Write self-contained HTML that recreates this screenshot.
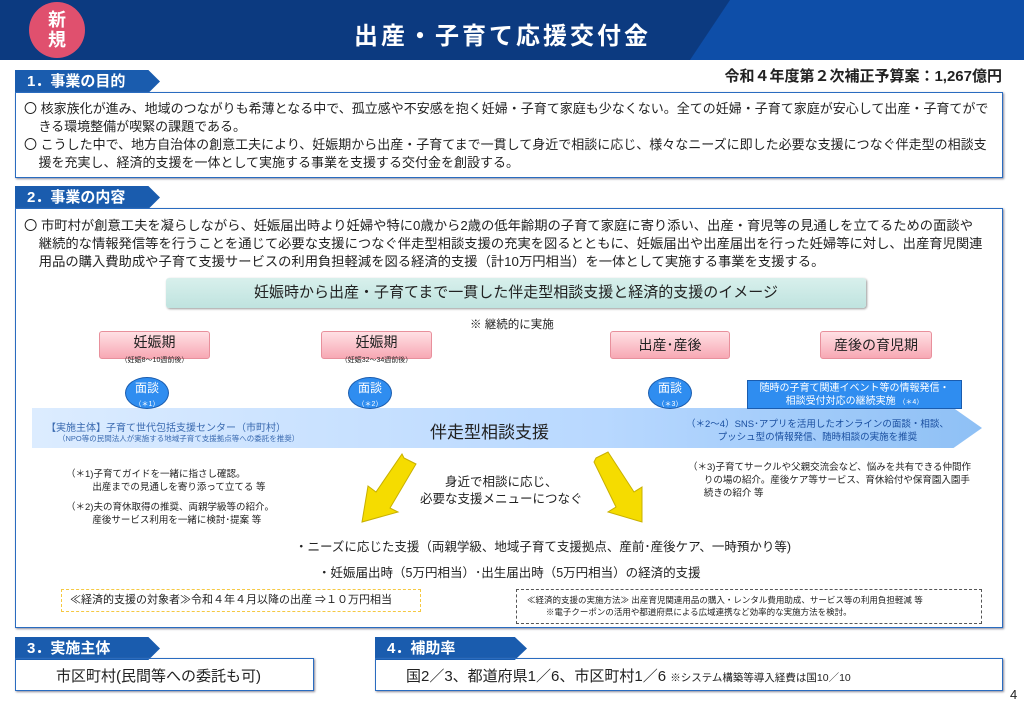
<!DOCTYPE html>
<html><head><meta charset="utf-8"><style>
*{margin:0;padding:0;box-sizing:border-box}
body{width:1024px;height:709px;position:relative;background:#fff;font-family:"Liberation Sans","Noto Sans CJK JP",sans-serif;color:#222;overflow:hidden}
.a{position:absolute;white-space:nowrap}
.tab{position:absolute;height:23px;background:#1a5cae;color:#fff;font-weight:bold;font-size:15px;line-height:23px;padding-left:12px;clip-path:polygon(0 0,92% 0,100% 50%,92% 100%,0 100%)}
.box{position:absolute;border:1.5px solid #2a6cc0;box-shadow:1px 1px 2px #889}
.pk{position:absolute;height:28px;background:linear-gradient(#ffe0e4,#f7a8b4);border:1px solid #e8909c;border-radius:3px;text-align:center;font-size:14px;line-height:15px;padding-top:3px}
.ci{position:absolute;width:44px;height:32px;border-radius:50%;background:#2f8df0;border:1px solid #1a5cae;color:#fff;text-align:center;font-size:12px;line-height:14px;padding-top:3px}
</style></head><body>
<div class="a" style="left:0;top:0;width:1024px;height:60px;background:#0c3a80"></div>
<div class="a" style="left:690px;top:0;width:334px;height:60px;background:#0e4ea8;clip-path:polygon(40px 0,100% 0,100% 100%,0 100%)"></div>
<div class="a" style="left:29px;top:2px;width:56px;height:56px;border-radius:50%;background:#e0506e;color:#fff;font-weight:bold;font-size:18px;line-height:20px;text-align:center;padding-top:8px">新<br>規</div>
<div class="a" style="left:0;width:1005px;top:16px;text-align:center;color:#fff;font-size:24px;font-weight:bold;letter-spacing:3px">出産・子育て応援交付金</div>

<div class="tab" style="left:15px;top:70px;width:145px">1．事業の目的</div>
<div class="a" style="right:22px;top:65px;font-size:15px;font-weight:bold">令和４年度第２次補正予算案：1,267億円</div>
<div class="box" style="left:15px;top:92px;width:988px;height:86px"></div>
<div class="a" style="left:24px;top:100px;font-size:13px;line-height:18px">〇 核家族化が進み、地域のつながりも希薄となる中で、孤立感や不安感を抱く妊婦・子育て家庭も少なくない。全ての妊婦・子育て家庭が安心して出産・子育てがで<br>&nbsp;&nbsp;&nbsp;&nbsp;きる環境整備が喫緊の課題である。<br>〇 こうした中で、地方自治体の創意工夫により、妊娠期から出産・子育てまで一貫して身近で相談に応じ、様々なニーズに即した必要な支援につなぐ伴走型の相談支<br>&nbsp;&nbsp;&nbsp;&nbsp;援を充実し、経済的支援を一体として実施する事業を支援する交付金を創設する。</div>

<div class="tab" style="left:15px;top:186px;width:145px">2．事業の内容</div>
<div class="box" style="left:15px;top:208px;width:988px;height:420px"></div>
<div class="a" style="left:24px;top:217px;font-size:13.3px;line-height:18px">〇 市町村が創意工夫を凝らしながら、妊娠届出時より妊婦や特に0歳から2歳の低年齢期の子育て家庭に寄り添い、出産・育児等の見通しを立てるための面談や<br>&nbsp;&nbsp;&nbsp;&nbsp;継続的な情報発信等を行うことを通じて必要な支援につなぐ伴走型相談支援の充実を図るとともに、妊娠届出や出産届出を行った妊婦等に対し、出産育児関連<br>&nbsp;&nbsp;&nbsp;&nbsp;用品の購入費助成や子育て支援サービスの利用負担軽減を図る経済的支援（計10万円相当）を一体として実施する事業を支援する。</div>
<div class="a" style="left:166px;top:278px;width:700px;height:30px;background:linear-gradient(#d8f0ec,#bfe3df);border-radius:3px;box-shadow:1px 1px 2px #999;text-align:center;font-size:15px;line-height:30px">妊娠時から出産・子育てまで一貫した伴走型相談支援と経済的支援のイメージ</div>
<div class="a" style="left:470px;top:316px;font-size:11.5px">※ 継続的に実施</div>
<div class="pk" style="left:99px;top:331px;width:111px">妊娠期<br><span style="font-size:7px">（妊娠8～10週前後）</span></div>
<div class="pk" style="left:321px;top:331px;width:111px">妊娠期<br><span style="font-size:7px">（妊娠32～34週前後）</span></div>
<div class="pk" style="left:610px;top:331px;width:120px;line-height:20px">出産･産後</div>
<div class="pk" style="left:820px;top:331px;width:112px;line-height:20px">産後の育児期</div>
<div class="a" style="left:32px;top:408px;width:950px;height:40px;background:linear-gradient(90deg,#dcecff,#b8d8ff 60%,#8ec0f5);clip-path:polygon(0 0,97% 0,100% 50%,97% 100%,0 100%)"></div>
<div class="ci" style="left:125px;top:377px">面談<br><span style="font-size:7px">（＊1）</span></div>
<div class="ci" style="left:348px;top:377px">面談<br><span style="font-size:7px">（＊2）</span></div>
<div class="ci" style="left:648px;top:377px">面談<br><span style="font-size:7px">（＊3）</span></div>
<div class="a" style="left:747px;top:380px;width:215px;height:29px;background:#2f8df0;border:1px solid #1a5cae;color:#fff;text-align:center;font-size:10px;line-height:13px;padding-top:1px">随時の子育て関連イベント等の情報発信・<br>相談受付対応の継続実施 <span style="font-size:7px">（＊4）</span></div>
<div class="a" style="left:46px;top:419px;font-size:10px;color:#3a6ab0">【実施主体】子育て世代包括支援センター（市町村）</div>
<div class="a" style="left:58px;top:433px;font-size:7.5px;color:#3a6ab0">（NPO等の民間法人が実施する地域子育て支援拠点等への委託を推奨）</div>
<div class="a" style="left:430px;top:418px;font-size:17px">伴走型相談支援</div>
<div class="a" style="left:686px;top:418px;font-size:9.5px;line-height:13px;color:#1a4fa0">（＊2～4）SNS･アプリを活用したオンラインの面談・相談、<br>&nbsp;&nbsp;&nbsp;&nbsp;&nbsp;&nbsp;&nbsp;&nbsp;&nbsp;&nbsp;&nbsp;&nbsp;プッシュ型の情報発信、随時相談の実施を推奨</div>
<svg class="a" style="left:0;top:0" width="1024" height="709">
<polygon points="404,458 416,464 390,508 398,512 362,522 368,486 376,492 402,454" fill="#f5dc00" stroke="#c8b000"/>
<polygon points="596,458 608,452 634,492 642,487 642,522 608,512 616,507 594,462" fill="#f5dc00" stroke="#c8b000"/>
</svg>
<div class="a" style="left:66px;top:468px;font-size:9.5px;line-height:13px">（＊1)子育てガイドを一緒に指さし確認。<br>&nbsp;&nbsp;&nbsp;&nbsp;&nbsp;&nbsp;&nbsp;&nbsp;&nbsp;&nbsp;出産までの見通しを寄り添って立てる 等</div>
<div class="a" style="left:66px;top:501px;font-size:9.5px;line-height:13px">（＊2)夫の育休取得の推奨、両親学級等の紹介。<br>&nbsp;&nbsp;&nbsp;&nbsp;&nbsp;&nbsp;&nbsp;&nbsp;&nbsp;&nbsp;産後サービス利用を一緒に検討･提案 等</div>
<div class="a" style="left:420px;top:474px;font-size:12.5px;line-height:17px;text-align:center">身近で相談に応じ、<br>必要な支援メニューにつなぐ</div>
<div class="a" style="left:688px;top:461px;font-size:9.5px;line-height:13px">（＊3)子育てサークルや父親交流会など、悩みを共有できる仲間作<br>&nbsp;&nbsp;&nbsp;&nbsp;&nbsp;&nbsp;りの場の紹介。産後ケア等サービス、育休給付や保育園入園手<br>&nbsp;&nbsp;&nbsp;&nbsp;&nbsp;&nbsp;続きの紹介 等</div>
<div class="a" style="left:295px;top:536px;font-size:12.5px">・ニーズに応じた支援（両親学級、地域子育て支援拠点、産前･産後ケア、一時預かり等)</div>
<div class="a" style="left:318px;top:562px;font-size:12.5px">・妊娠届出時（5万円相当）･出生届出時（5万円相当）の経済的支援</div>
<div class="a" style="left:61px;top:589px;width:360px;height:23px;border:1.5px dashed #f5c842;font-size:11px;line-height:20px;padding-left:8px">≪経済的支援の対象者≫令和４年４月以降の出産 ⇒１０万円相当</div>
<div class="a" style="left:516px;top:589px;width:466px;height:35px;border:1.5px dashed #555;font-size:8.5px;line-height:12px;padding:4px 0 0 10px">≪経済的支援の実施方法≫ 出産育児関連用品の購入・レンタル費用助成、サービス等の利用負担軽減 等<br>&nbsp;&nbsp;&nbsp;&nbsp;&nbsp;&nbsp;&nbsp;&nbsp;※電子クーポンの活用や都道府県による広域連携など効率的な実施方法を検討。</div>

<div class="tab" style="left:15px;top:637px;width:145px">3．実施主体</div>
<div class="box" style="left:15px;top:658px;width:299px;height:33px"></div>
<div class="a" style="left:56px;top:665px;font-size:15px">市区町村(民間等への委託も可)</div>
<div class="tab" style="left:375px;top:637px;width:152px">4．補助率</div>
<div class="box" style="left:375px;top:658px;width:628px;height:33px"></div>
<div class="a" style="left:406px;top:665px;font-size:15px">国2／3、都道府県1／6、市区町村1／6 <span style="font-size:10.5px">※システム構築等導入経費は国10／10</span></div>
<div class="a" style="left:1010px;top:687px;font-size:13px">4</div>
</body></html>
